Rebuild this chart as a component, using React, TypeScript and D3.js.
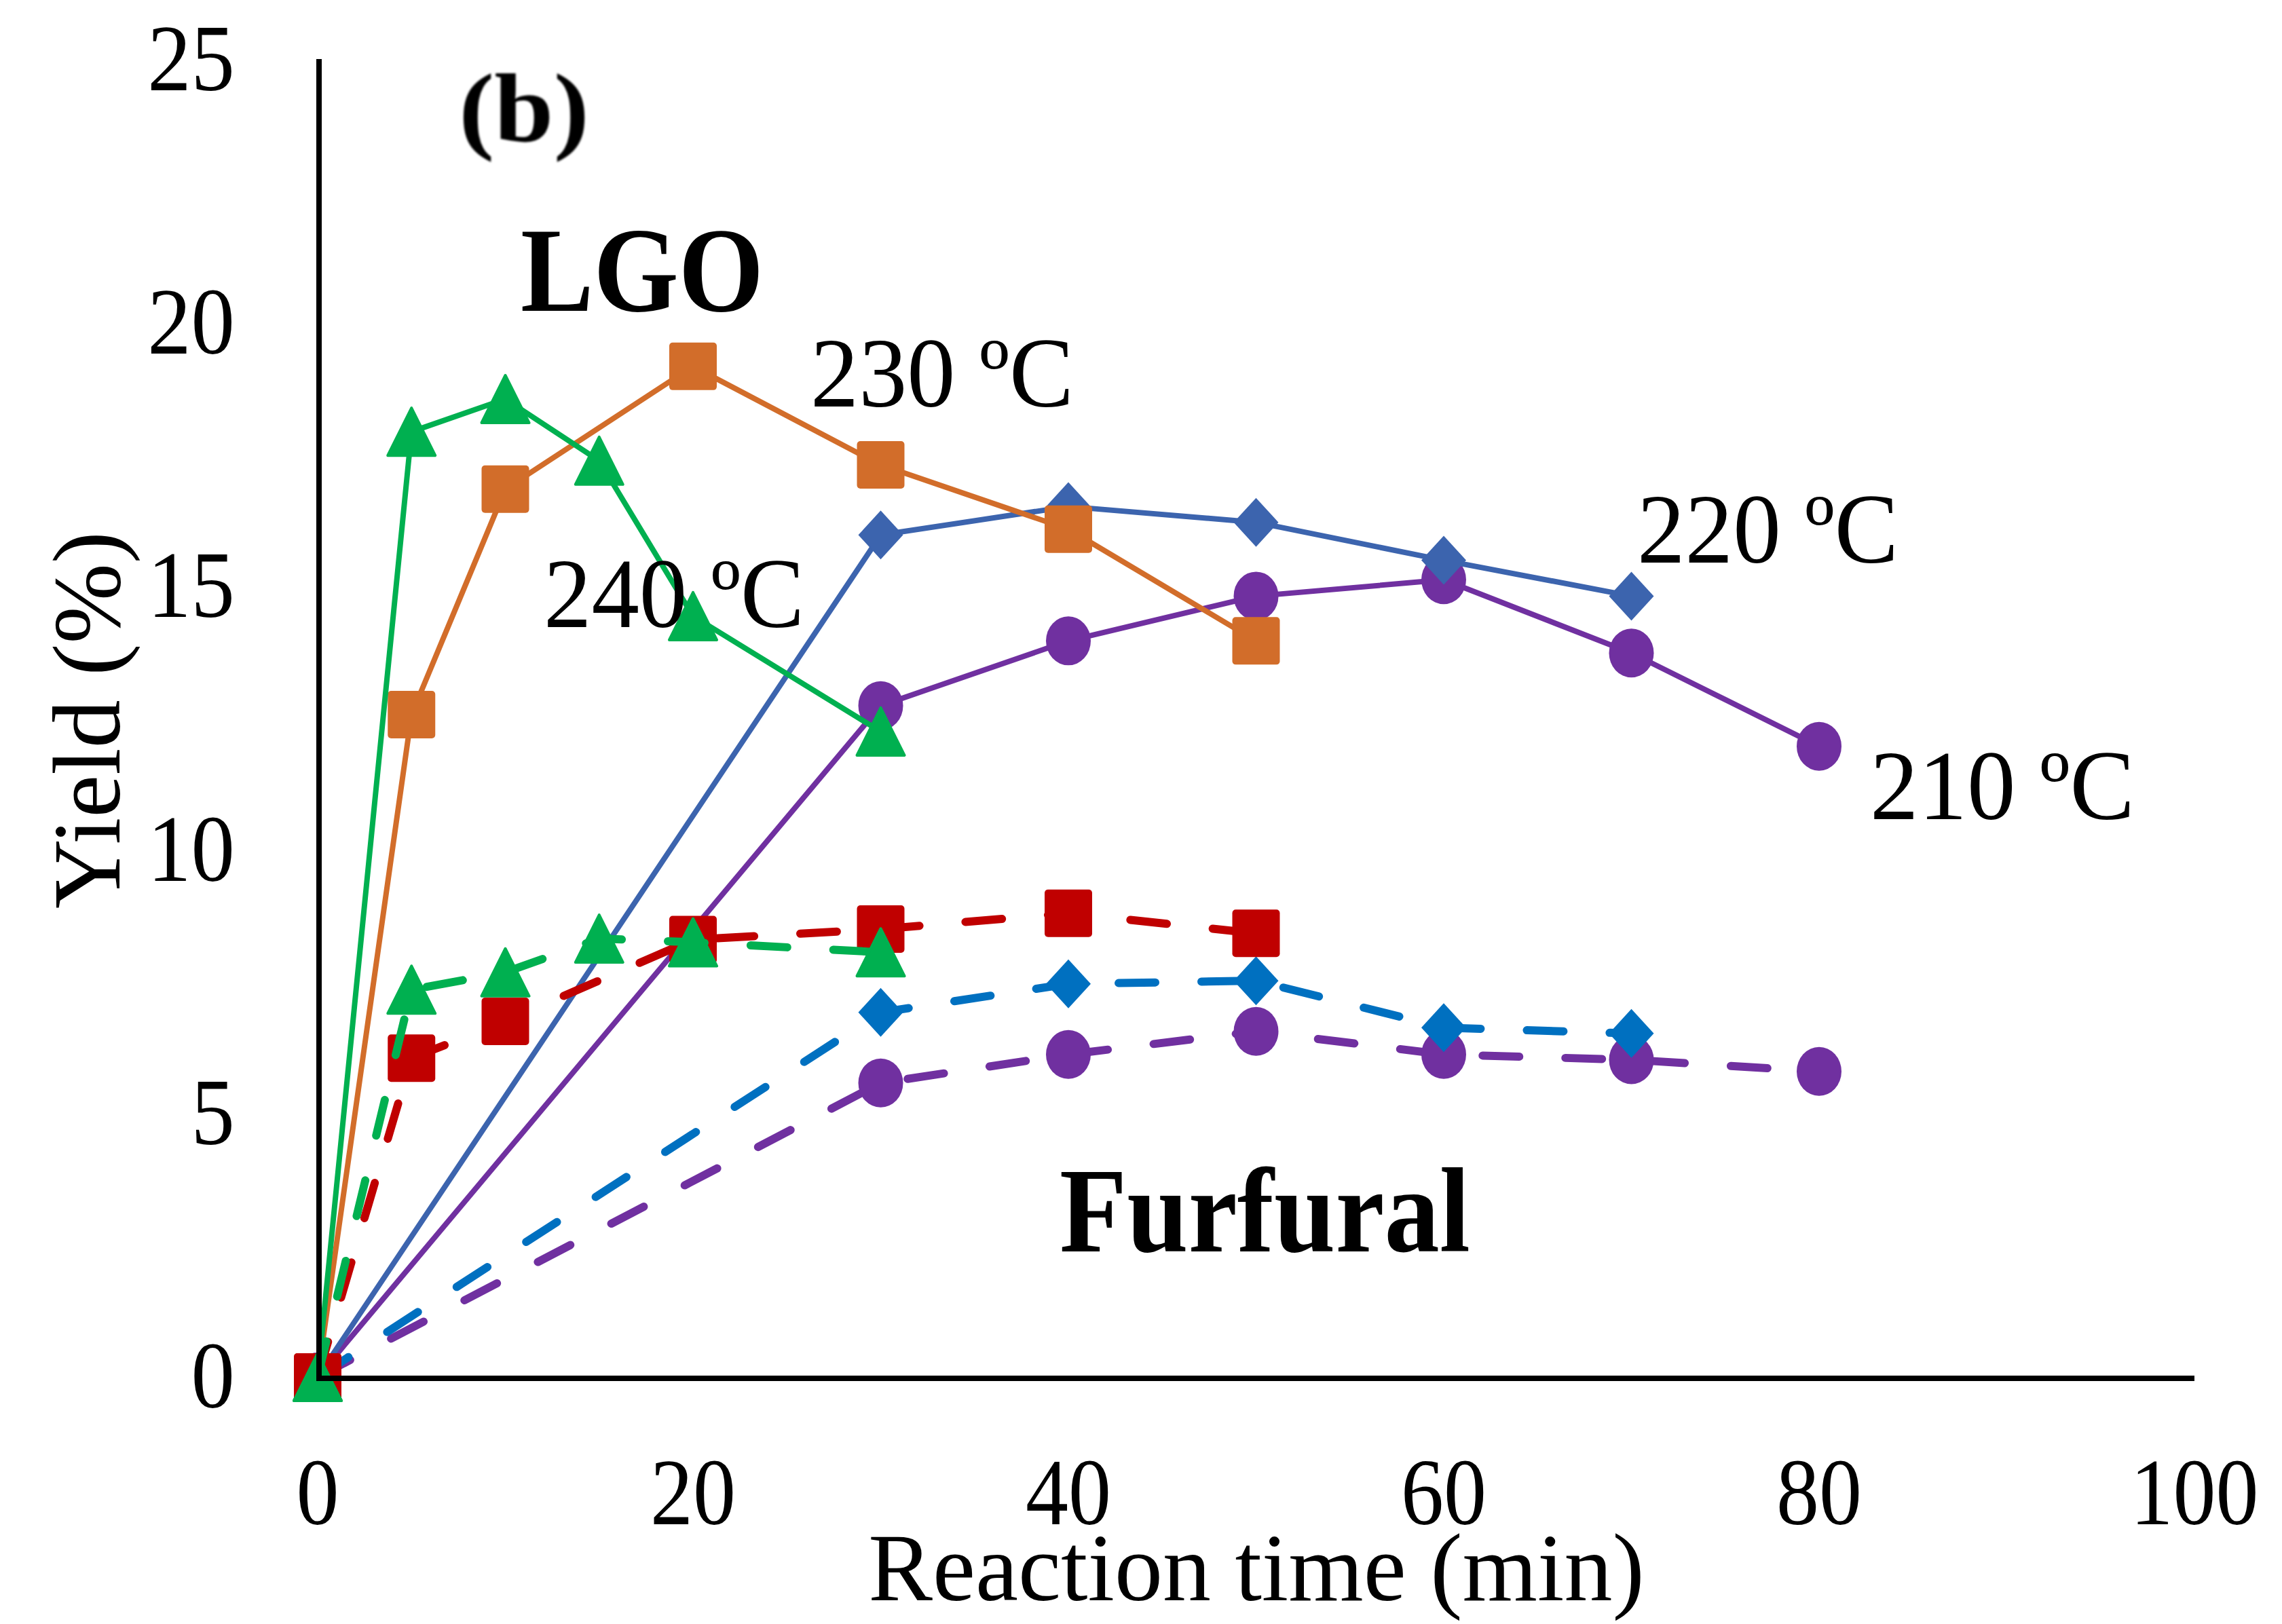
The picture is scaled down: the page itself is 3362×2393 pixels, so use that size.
import React from 'react';
import * as d3 from 'd3';

// reaction times (min) for each temperature
const time210 = [0, 30, 40, 50, 60, 70, 80];
const time220 = [0, 30, 40, 50, 60, 70];
const time230 = [0, 5, 10, 20, 30, 40, 50];
const time240 = [0, 5, 10, 15, 20, 30];

// LGO yields (%)
const lgo210 = [0, 12.74, 13.97, 14.82, 15.13, 13.74, 11.97];
const lgo220 = [0, 15.98, 16.52, 16.22, 15.5, 14.82];
const lgo230 = [0, 12.57, 16.85, 19.18, 17.31, 16.09, 13.97];
const lgo240 = [0, 17.94, 18.56, 17.39, 14.44, 12.25];

// furfural yields (%)
const fur210 = [0, 5.58, 6.12, 6.56, 6.12, 6.02, 5.8];
const fur220 = [0, 6.92, 7.46, 7.52, 6.63, 6.52];
const fur230 = [0, 6.05, 6.75, 8.3, 8.5, 8.8, 8.42];
const fur240 = [0, 7.35, 7.68, 8.32, 8.25, 8.06];

const xTicks = [0, 20, 40, 60, 80, 100];
const yTicks = [0, 5, 10, 15, 20, 25];

type Shape = 'circle' | 'diamond' | 'square' | 'triangle';

interface Series {
  times: number[];
  values: number[];
  color: string;
  shape: Shape;
  dashed: boolean;
}

const series: Series[] = [
  { times: time210, values: lgo210, color: '#7030A0', shape: 'circle', dashed: false },
  { times: time220, values: lgo220, color: '#3C64AE', shape: 'diamond', dashed: false },
  { times: time230, values: lgo230, color: '#D26D2A', shape: 'square', dashed: false },
  { times: time240, values: lgo240, color: '#00B050', shape: 'triangle', dashed: false },
  { times: time210, values: fur210, color: '#7030A0', shape: 'circle', dashed: true },
  { times: time220, values: fur220, color: '#0070C0', shape: 'diamond', dashed: true },
  { times: time230, values: fur230, color: '#C00000', shape: 'square', dashed: true },
  { times: time240, values: fur240, color: '#00B050', shape: 'triangle', dashed: true },
];

const W = 3362;
const H = 2393;
const FONT = '"Liberation Serif", "Times New Roman", serif';

const Marker: React.FC<{ shape: Shape; cx: number; cy: number; color: string }> = ({ shape, cx, cy, color }) => {
  if (shape === 'circle') return <ellipse cx={cx} cy={cy} rx={33} ry={36} fill={color} />;
  if (shape === 'square')
    return <rect x={cx - 35} y={cy - 35} width={70} height={70} rx={5} fill={color} />;
  if (shape === 'diamond')
    return <path d={`M${cx},${cy - 36}L${cx + 33},${cy}L${cx},${cy + 36}L${cx - 33},${cy}Z`} fill={color} />;
  return (
    <path
      d={`M${cx},${cy - 35}L${cx + 35},${cy + 35}L${cx - 35},${cy + 35}Z`}
      fill={color}
      stroke={color}
      strokeWidth={4}
      strokeLinejoin="round"
    />
  );
};

export default function App() {
  const x = d3.scaleLinear().domain([0, 100]).range([468, 3233]);
  const y = d3.scaleLinear().domain([0, 25]).range([2029, 88]);

  const line = d3
    .line<[number, number]>()
    .x(d => x(d[0]))
    .y(d => y(d[1]));

  const label = (txt: string, x0: number, base: number, size: number, len: number, bold = false) => (
    <text
      x={x0}
      y={base}
      fontSize={size}
      fontWeight={bold ? 'bold' : 'normal'}
      textLength={len}
      lengthAdjust="spacingAndGlyphs"
    >
      {txt}
    </text>
  );

  return (
    <div style={{ position: 'absolute', left: 0, top: 0 }}>
      <svg width={W} height={H} style={{ display: 'block', background: '#fff' }} fontFamily={FONT}>
        <defs>
          <filter id="soft">
            <feGaussianBlur stdDeviation="1.6" />
          </filter>
        </defs>

        {/* series: lines then markers */}
        {series.map((s, i) => {
          const pts = s.times.map((t, j) => [t, s.values[j]] as [number, number]);
          return (
            <g key={i}>
              <path
                d={line(pts) || ''}
                fill="none"
                stroke={s.color}
                strokeWidth={s.dashed ? 12 : 8}
                strokeDasharray={s.dashed ? '54 68' : undefined}
                strokeLinecap="round"
                strokeLinejoin="round"
              />
              {pts.map((p, j) => (
                <Marker key={j} shape={s.shape} cx={x(p[0])} cy={y(p[1])} color={s.color} />
              ))}
            </g>
          );
        })}

        {/* axes */}
        <line x1={x(0) + 2} x2={x(0) + 2} y1={87} y2={y(0) + 6} stroke="#000" strokeWidth={8} />
        <line x1={x(0) - 2} x2={x(100)} y1={y(0) + 2} y2={y(0) + 2} stroke="#000" strokeWidth={8} />

        {yTicks.map(t => (
          <text
            key={t}
            transform={`translate(346,${y(t) + 45}) scale(0.92,1)`}
            textAnchor="end"
            fontSize={140}
          >
            {t}
          </text>
        ))}
        {xTicks.map(t => (
          <text
            key={t}
            transform={`translate(${x(t)},2246) scale(0.9,1)`}
            textAnchor="middle"
            fontSize={140}
          >
            {t}
          </text>
        ))}

        <text x={1851} y={2358} textAnchor="middle" fontSize={142}>
          Reaction time (min)
        </text>
        <text transform="translate(176,1061) rotate(-90)" textAnchor="middle" fontSize={142}>
          Yield (%)
        </text>

        <g filter="url(#soft)">{label('(b)', 676, 208, 145, 192, true)}</g>
        {label('LGO', 767, 458, 178, 358, true)}
        {label('Furfural', 1561, 1844, 178, 605, true)}
        {label('230 ºC', 1194, 599, 146, 388)}
        {label('240 ºC', 801, 924, 146, 384)}
        {label('220 ºC', 2412, 829, 146, 385)}
        {label('210 ºC', 2755, 1207, 146, 390)}
      </svg>
    </div>
  );
}
